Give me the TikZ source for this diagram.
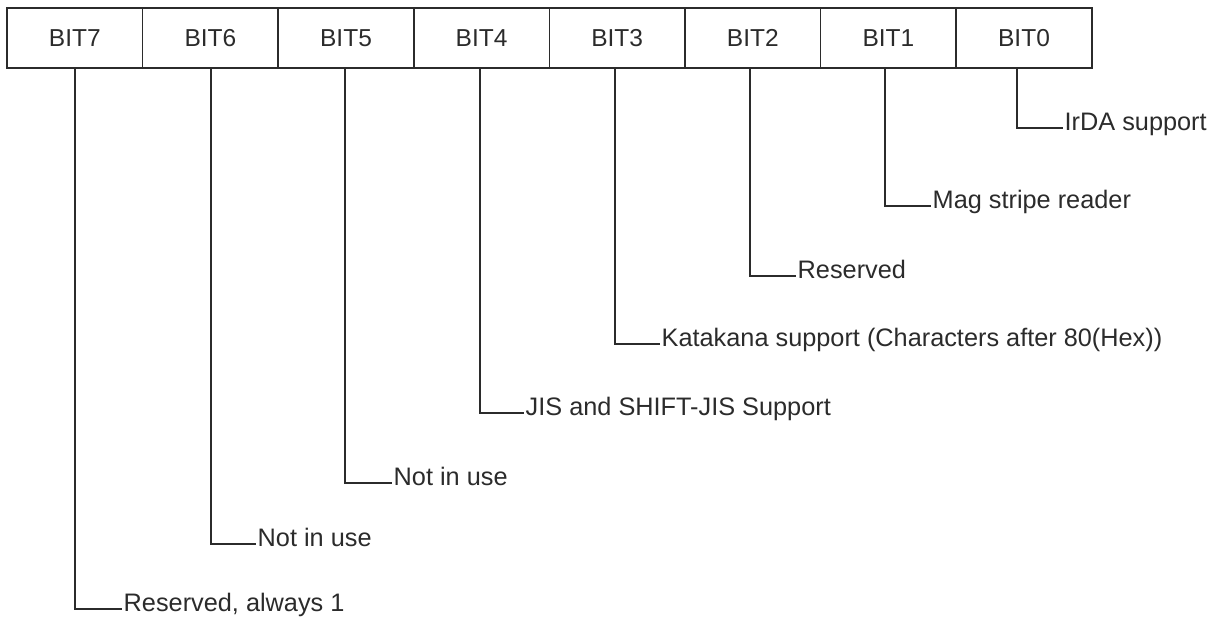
\documentclass[tikz,border=0pt]{standalone}
\usepackage{fontspec}
\setmainfont{Liberation Sans}
\usetikzlibrary{positioning}

\definecolor{inkgray}{HTML}{2B2B2B}
\tikzset{
  bitcell/.style={draw=inkgray,line width=1.5pt,minimum width=135.6pt,minimum height=60pt,
    inner sep=0pt,outer sep=0pt,text=inkgray,font=\fontsize{24.5}{28}\selectfont},
  lead/.style={draw=inkgray,line width=1.2pt},
  bitnote/.style={anchor=mid west,inner sep=1.5pt,text=inkgray,font=\fontsize{25.3}{29}\selectfont}
}

\begin{document}
\begin{tikzpicture}[x=1pt,y=-1pt]
\useasboundingbox (0,0) rectangle (1224,625);

\node[bitcell] (b7) at (74.8,38) {BIT7};
\node[bitcell,right=0pt of b7] (b6) {BIT6};
\node[bitcell,right=0pt of b6] (b5) {BIT5};
\node[bitcell,right=0pt of b5] (b4) {BIT4};
\node[bitcell,right=0pt of b4] (b3) {BIT3};
\node[bitcell,right=0pt of b3] (b2) {BIT2};
\node[bitcell,right=0pt of b2] (b1) {BIT1};
\node[bitcell,right=0pt of b1] (b0) {BIT0};

% corners of the leader lines
\coordinate (k0) at (1017,128);
\coordinate (k1) at (885,206);
\coordinate (k2) at (750,276);
\coordinate (k3) at (615,344);
\coordinate (k4) at (480,413);
\coordinate (k5) at (345,483);
\coordinate (k6) at (211,544);
\coordinate (k7) at (75,609);

\node[bitnote] (n0) at ([xshift=46]k0) {IrDA support};
\node[bitnote] (n1) at ([xshift=46]k1) {Mag stripe reader};
\node[bitnote] (n2) at ([xshift=46]k2) {Reserved};
\node[bitnote] (n3) at ([xshift=45]k3) {Katakana support (Characters after 80(Hex))};
\node[bitnote] (n4) at ([xshift=44]k4) {JIS and SHIFT-JIS Support};
\node[bitnote] (n5) at ([xshift=47]k5) {Not in use};
\node[bitnote] (n6) at ([xshift=45]k6) {Not in use};
\node[bitnote] (n7) at ([xshift=47]k7) {Reserved, always 1};

\draw[lead] (k0 |- b0.south) -- (k0) -- (n0.mid west);
\draw[lead] (k1 |- b1.south) -- (k1) -- (n1.mid west);
\draw[lead] (k2 |- b2.south) -- (k2) -- (n2.mid west);
\draw[lead] (k3 |- b3.south) -- (k3) -- (n3.mid west);
\draw[lead] (k4 |- b4.south) -- (k4) -- (n4.mid west);
\draw[lead] (k5 |- b5.south) -- (k5) -- (n5.mid west);
\draw[lead] (k6 |- b6.south) -- (k6) -- (n6.mid west);
\draw[lead] (k7 |- b7.south) -- (k7) -- (n7.mid west);

\end{tikzpicture}
\end{document}
